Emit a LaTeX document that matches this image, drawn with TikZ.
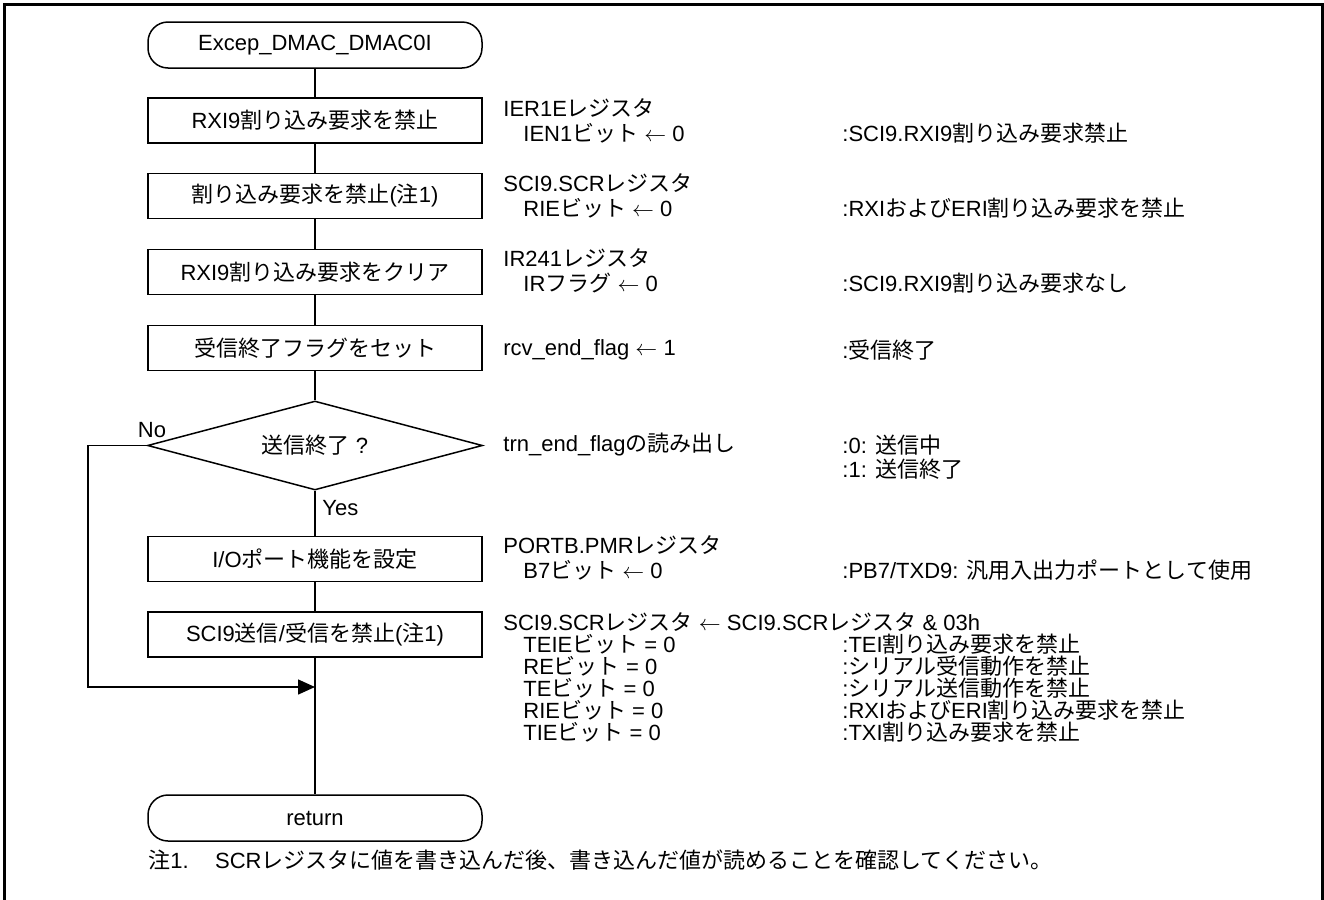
\documentclass[tikz,border=0pt]{standalone}
\usepackage{fontspec}
\setmainfont{Liberation Sans}
\newfontfamily\cjk{Noto Sans CJK JP}
\newcommand\J[1]{{\cjk #1}}
\usetikzlibrary{arrows.meta,shapes.geometric}
\begin{document}
\begin{tikzpicture}[x=0.5pt,y=-0.5pt,
  every node/.style={font=\fontsize{11}{13}\selectfont, inner sep=0pt},
  proc/.style={draw, line width=0.75pt, minimum width=167pt, minimum height=22.5pt},
  term/.style={draw, line width=0.75pt, rounded corners=10pt, minimum width=167pt, minimum height=23pt},
  deci/.style={draw, diamond, aspect=3.76, line width=0.75pt, minimum width=167.5pt, minimum height=44.5pt},
  txt/.style={anchor=west},
  conn/.style={line width=0.75pt},
  frame/.style={line width=1.5pt}]
\useasboundingbox (0,0) rectangle (1324,900);
\draw[frame] (4,900) -- (4,4) -- (1322,4) -- (1322,900);

\node[term] (start) at (315,45) {Excep\_DMAC\_DMAC0I};
\node[proc] (b1) at (315,120.5) {RXI9\J{割り込み要求を禁止}};
\node[proc] (b2) at (315,196) {\J{割り込み要求を禁止}(\J{注}1)};
\node[proc] (b3) at (315,272) {RXI9\J{割り込み要求をクリア}};
\node[proc] (b4) at (315,348) {\J{受信終了フラグをセット}};
\node[deci] (dec) at (315,445.5) {\J{送信終了} ?};
\node[proc] (b5) at (315,559) {I/O\J{ポート機能を設定}};
\node[proc] (b6) at (315,634.5) {SCI9\J{送信}/\J{受信を禁止}(\J{注}1)};
\node[term] (ret) at (315,818) {return};

\coordinate (nl) at (88,445.5);
\coordinate (join) at (315,687);

\draw[conn] (start) -- (b1);
\draw[conn] (b1) -- (b2);
\draw[conn] (b2) -- (b3);
\draw[conn] (b3) -- (b4);
\draw[conn] (b4) -- (dec);
\draw[conn] (dec) -- (b5);
\draw[conn] (b5) -- (b6);
\draw[conn] (b6) -- (ret);
\draw[conn,-{Triangle[length=8.5pt,width=7.5pt]}] (dec.west) -- (nl) |- (join);

\node (no) at (152,430) {No};
\node[txt] (yes) at (322,508) {Yes};

% right-hand annotations
\node[txt] (r1a) at (503,108) {IER1E\J{レジスタ}};
\node[txt] (r1b) at (523,133) {IEN1\J{ビット} $\leftarrow$ 0};
\node[txt] (r1c) at (842,133) {:SCI9.RXI9\J{割り込み要求禁止}};

\node[txt] (r2a) at (503,183) {SCI9.SCR\J{レジスタ}};
\node[txt] (r2b) at (523,208) {RIE\J{ビット} $\leftarrow$ 0};
\node[txt] (r2c) at (842,208) {:RXI\J{および}ERI\J{割り込み要求を禁止}};

\node[txt] (r3a) at (503,258) {IR241\J{レジスタ}};
\node[txt] (r3b) at (523,283) {IR\J{フラグ} $\leftarrow$ 0};
\node[txt] (r3c) at (842,283) {:SCI9.RXI9\J{割り込み要求なし}};

\node[txt] (r4a) at (503,350) {rcv\_end\_flag $\leftarrow$ 1};
\node[txt] (r4c) at (842,350) {:\J{受信終了}};

\node[txt] (r5a) at (503,445) {trn\_end\_flag\J{の読み出し}};
\node[txt] (r5c) at (842,445) {:0: \J{送信中}};
\node[txt] (r5d) at (842,469) {:1: \J{送信終了}};

\node[txt] (r6a) at (503,545) {PORTB.PMR\J{レジスタ}};
\node[txt] (r6b) at (523,570) {B7\J{ビット} $\leftarrow$ 0};
\node[txt] (r6c) at (842,570) {:PB7/TXD9: \J{汎用入出力ポートとして使用}};

\node[txt] (r7a) at (503,622) {SCI9.SCR\J{レジスタ} $\leftarrow$ SCI9.SCR\J{レジスタ} \& 03h};
\node[txt] (r7b) at (523,644) {TEIE\J{ビット} = 0};
\node[txt] (r7c) at (842,644) {:TEI\J{割り込み要求を禁止}};
\node[txt] (r7d) at (523,666) {RE\J{ビット} = 0};
\node[txt] (r7e) at (842,666) {:\J{シリアル受信動作を禁止}};
\node[txt] (r7f) at (523,688) {TE\J{ビット} = 0};
\node[txt] (r7g) at (842,688) {:\J{シリアル送信動作を禁止}};
\node[txt] (r7h) at (523,710) {RIE\J{ビット} = 0};
\node[txt] (r7i) at (842,710) {:RXI\J{および}ERI\J{割り込み要求を禁止}};
\node[txt] (r7j) at (523,732) {TIE\J{ビット} = 0};
\node[txt] (r7k) at (842,732) {:TXI\J{割り込み要求を禁止}};

\node[txt] (note) at (148,860) {\J{注}1.\hspace{1.2em}SCR\J{レジスタに値を書き込んだ後、書き込んだ値が読めることを確認してください。}};
\end{tikzpicture}
\end{document}
